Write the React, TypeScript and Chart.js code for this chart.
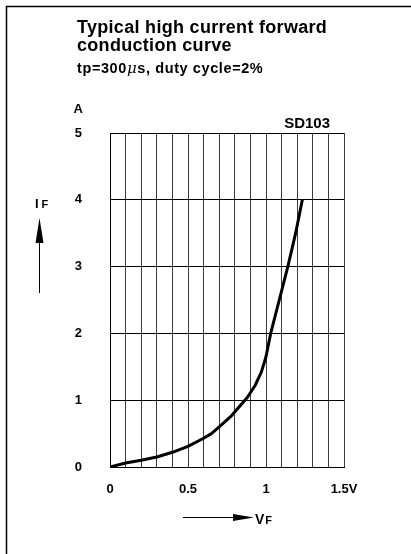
import { useEffect, useRef } from 'react';
import { Chart, registerables } from 'chart.js';

Chart.register(...registerables);

// Forward voltage (V) and forward current (A)
const voltage = [0, 0.1, 0.2, 0.3, 0.4, 0.5, 0.6, 0.65, 0.7, 0.78, 0.88, 0.93, 0.97, 1.0, 1.03, 1.085, 1.14, 1.19, 1.233];
const current = [0, 0.06, 0.1, 0.15, 0.22, 0.31, 0.43, 0.5, 0.6, 0.77, 1.04, 1.22, 1.42, 1.65, 2.0, 2.5, 3.0, 3.5, 4.0];

// Axis ranges and labels
const xMin = 0;
const xMax = 1.5;
const xStep = 0.1;
const xTickLabels: Record<number, string> = { 0: '0', 5: '0.5', 10: '1', 15: '1.5V' };
const yMin = 0;
const yMax = 5;
const yStep = 1;

const titleLines = ['Typical high current forward', 'conduction curve'];
const subtitleParts = ['tp=300', 'μ', 's, duty cycle=2%'];
const yUnit = 'A';
const deviceLabel = 'SD103';
const yAxisName = ['I', 'F'];
const xAxisName = ['V', 'F'];

const FONT = '"Liberation Sans", Arial, Helvetica, sans-serif';

const annotations = {
  id: 'annotations',
  afterDraw(chart: Chart) {
    const ctx: any = chart.ctx;
    const { left, top, right, bottom } = chart.chartArea;
    const W = chart.width;
    const H = chart.height;
    ctx.save();
    // outer frame (top + left edges)
    ctx.strokeStyle = '#000';
    ctx.lineWidth = 1.5;
    ctx.beginPath();
    ctx.moveTo(6.5, H);
    ctx.lineTo(6.5, 6.5);
    ctx.lineTo(W, 6.5);
    ctx.stroke();

    ctx.fillStyle = '#000';
    ctx.textAlign = 'left';
    ctx.textBaseline = 'alphabetic';
    // title
    ctx.font = `bold 18px ${FONT}`;
    ctx.letterSpacing = '0.3px';
    ctx.fillText(titleLines[0], 77, 33);
    ctx.fillText(titleLines[1], 77, 51);
    // subtitle
    let x = 77;
    ctx.letterSpacing = '0.6px';
    ctx.font = `bold 14.5px ${FONT}`;
    ctx.fillText(subtitleParts[0], x, 73);
    x += ctx.measureText(subtitleParts[0]).width;
    ctx.font = `italic 15px "DejaVu Serif", serif`;
    ctx.fillText(subtitleParts[1], x, 73);
    x += ctx.measureText(subtitleParts[1]).width;
    ctx.font = `bold 14.5px ${FONT}`;
    ctx.fillText(subtitleParts[2], x, 73);
    ctx.letterSpacing = '0px';

    // unit label above y ticks
    ctx.font = `bold 13px ${FONT}`;
    ctx.textAlign = 'right';
    ctx.fillText(yUnit, left - 27, top - 20);
    // device label
    ctx.font = `bold 15px ${FONT}`;
    ctx.fillText(deviceLabel, right - 14, top - 5);

    // y axis name + arrow
    ctx.textAlign = 'left';
    ctx.font = `bold 13px ${FONT}`;
    ctx.fillText(yAxisName[0], 35, top + 75);
    const iw = ctx.measureText(yAxisName[0]).width;
    ctx.font = `bold 11px ${FONT}`;
    ctx.fillText(yAxisName[1], 35 + iw + 3, top + 75);
    ctx.lineWidth = 1;
    ctx.beginPath();
    ctx.moveTo(39.5, top + 160);
    ctx.lineTo(39.5, top + 105);
    ctx.stroke();
    ctx.beginPath();
    ctx.moveTo(39.5, top + 85);
    ctx.lineTo(35.5, top + 110);
    ctx.lineTo(43.5, top + 110);
    ctx.closePath();
    ctx.fill();

    // x axis name + arrow
    const ay = bottom + 50.5;
    ctx.beginPath();
    ctx.moveTo(183, ay);
    ctx.lineTo(236, ay);
    ctx.stroke();
    ctx.beginPath();
    ctx.moveTo(254, ay);
    ctx.lineTo(233, ay - 3.5);
    ctx.lineTo(233, ay + 3.5);
    ctx.closePath();
    ctx.fill();
    ctx.font = `bold 14px ${FONT}`;
    ctx.fillText(xAxisName[0], 255, ay + 6);
    const vw = ctx.measureText(xAxisName[0]).width;
    ctx.font = `bold 11px ${FONT}`;
    ctx.fillText(xAxisName[1], 255 + vw + 1, ay + 6);
    ctx.restore();
  },
};

export default function App() {
  const ref = useRef<HTMLCanvasElement>(null);
  useEffect(() => {
    if (!ref.current) return;
    const chart = new Chart(ref.current, {
      type: 'scatter',
      data: {
        datasets: [
          {
            data: voltage.map((v, i) => ({ x: v, y: current[i] })),
            showLine: true,
            borderColor: '#000',
            borderWidth: 3,
            borderJoinStyle: 'round',
            pointRadius: 0,
            tension: 0,
            fill: false,
          },
        ],
      },
      options: {
        responsive: false,
        animation: false,
        devicePixelRatio: 1,
        layout: { padding: { left: 0, top: 133, right: 67, bottom: 47 } },
        plugins: { legend: { display: false }, tooltip: { enabled: false } },
        scales: {
          x: {
            type: 'linear',
            min: xMin,
            max: xMax,
            afterFit: (s: any) => {
              s.height = 40;
            },
            ticks: {
              stepSize: xStep,
              autoSkip: false,
              maxRotation: 0,
              padding: 15,
              color: '#000',
              font: { family: FONT, size: 13, weight: 'bold' },
              callback: (v: any) => xTickLabels[Math.round(Number(v) * 10)] ?? '',
            },
            grid: { color: '#3c3c3c', lineWidth: 1, drawTicks: false },
            border: { color: '#000', width: 1 },
          },
          y: {
            type: 'linear',
            min: yMin,
            max: yMax,
            afterFit: (s: any) => {
              s.width = 110;
            },
            ticks: {
              stepSize: yStep,
              padding: 28,
              color: '#000',
              font: { family: FONT, size: 13, weight: 'bold' },
            },
            grid: { color: '#000', lineWidth: 1, drawTicks: false },
            border: { color: '#000', width: 1 },
          },
        },
      },
      plugins: [annotations],
    });
    return () => chart.destroy();
  }, []);
  return (
    <div style={{ position: 'absolute', left: 0, top: 0, width: 411, height: 554, background: '#fff' }}>
      <canvas ref={ref} width={411} height={554} />
    </div>
  );
}
